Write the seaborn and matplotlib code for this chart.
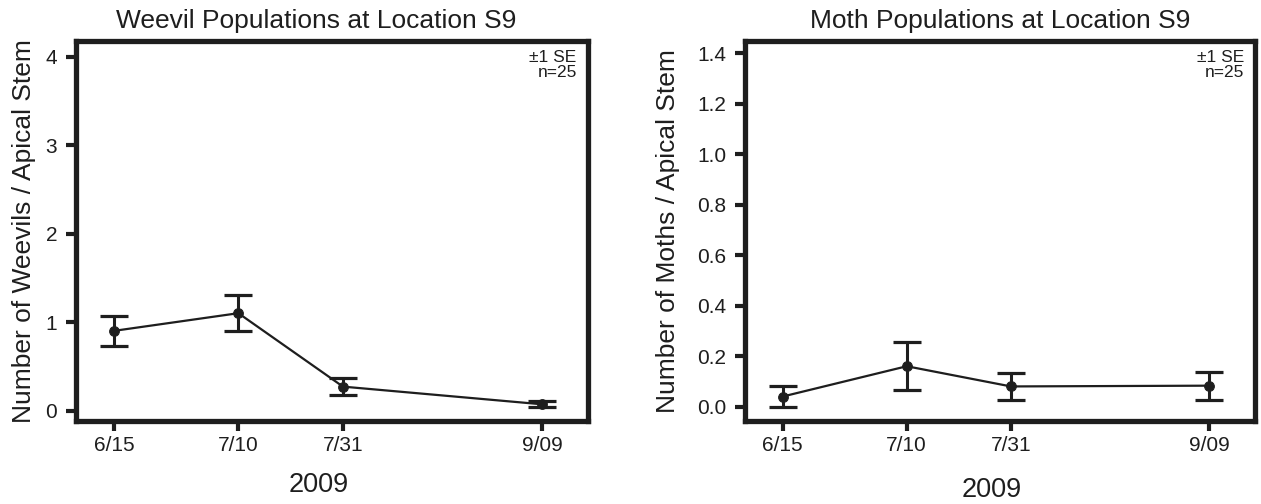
import matplotlib
matplotlib.use("Agg")
import matplotlib.pyplot as plt
import seaborn as sns
import pandas as pd
import numpy as np

# ---- data ----
date_labels = ["6/15", "7/10", "7/31", "9/09"]
date_iso = ["2009-06-15", "2009-07-10", "2009-07-31", "2009-09-09"]
weevil_mean = [0.90, 1.10, 0.27, 0.07]
weevil_se = [0.17, 0.205, 0.10, 0.035]
moth_mean = [0.04, 0.16, 0.08, 0.083]
moth_se = [0.04, 0.095, 0.054, 0.055]
weevil_yticks = [0, 1, 2, 3, 4]
moth_yticks = [0.0, 0.2, 0.4, 0.6, 0.8, 1.0, 1.2, 1.4]

sns.set_theme(style="ticks")
plt.rcParams["font.family"] = ["Liberation Sans", "DejaVu Sans"]

ink = "#1e1e1e"
day = pd.to_datetime(pd.Series(date_iso)).dt.dayofyear.to_numpy()

fig = plt.figure(figsize=(12.61, 5.04), dpi=100)
ax1 = fig.add_axes([76 / 1261, 1 - 420.5 / 504, 512 / 1261, 379.8 / 504])
ax2 = fig.add_axes([745 / 1261, 1 - 420.5 / 504, 510 / 1261, 379.8 / 504])


def panel(ax, mean, se, yticks, ylim, yfmt, title, title_x, ylabel, ylab_x, xlab_xy):
    df = pd.DataFrame({"day": day, "mean": mean})
    ax.errorbar(day, mean, yerr=se, fmt="none", ecolor=ink, elinewidth=2.2,
                capsize=10, capthick=2.3, zorder=2)
    sns.lineplot(data=df, x="day", y="mean", ax=ax, color=ink, linewidth=1.6,
                 marker="o", markersize=7, markeredgecolor=ink,
                 markerfacecolor=ink, sort=False, zorder=3)
    ax.set_xlim(158.4, 261.2)
    ax.set_ylim(*ylim)
    ax.set_xticks(day)
    ax.set_xticklabels(date_labels)
    ax.set_yticks(yticks)
    ax.set_yticklabels([yfmt.format(v) for v in yticks])
    for sp in ax.spines.values():
        sp.set_visible(True)
        sp.set_linewidth(3.8)
        sp.set_color(ink)
        sp.set_capstyle("projecting")
    ax.tick_params(axis="both", length=7.5, width=3, color=ink,
                   labelsize=15, labelcolor=ink, direction="out")
    ax.tick_params(axis="x", pad=3.5)
    ax.tick_params(axis="y", pad=6)
    ax.set_title(title, fontsize=19, color=ink, pad=9, x=title_x)
    ax.set_ylabel(ylabel, fontsize=19, color=ink)
    ax.yaxis.set_label_coords(ylab_x, 0.5)
    ax.set_xlabel("2009", fontsize=19.5, color=ink)
    ax.xaxis.set_label_coords(*xlab_xy)
    ax.text(0.978, 0.975, "\u00b11 SE\nn=25", transform=ax.transAxes,
            ha="right", va="top", fontsize=12.5, color=ink, linespacing=1.0)
    ax.grid(False)


panel(ax1, weevil_mean, weevil_se, weevil_yticks, (-0.113, 4.18), "{:d}",
      "Weevil Populations at Location S9", 0.47,
      "Number of Weevils / Apical Stem", -0.078, (0.474, -0.136))
panel(ax2, moth_mean, moth_se, moth_yticks, (-0.055, 1.45), "{:.1f}",
      "Moth Populations at Location S9", 0.5,
      "Number of Moths / Apical Stem", -0.128, (0.483, -0.148))

fig.savefig("out.png", dpi=100, facecolor="white")
